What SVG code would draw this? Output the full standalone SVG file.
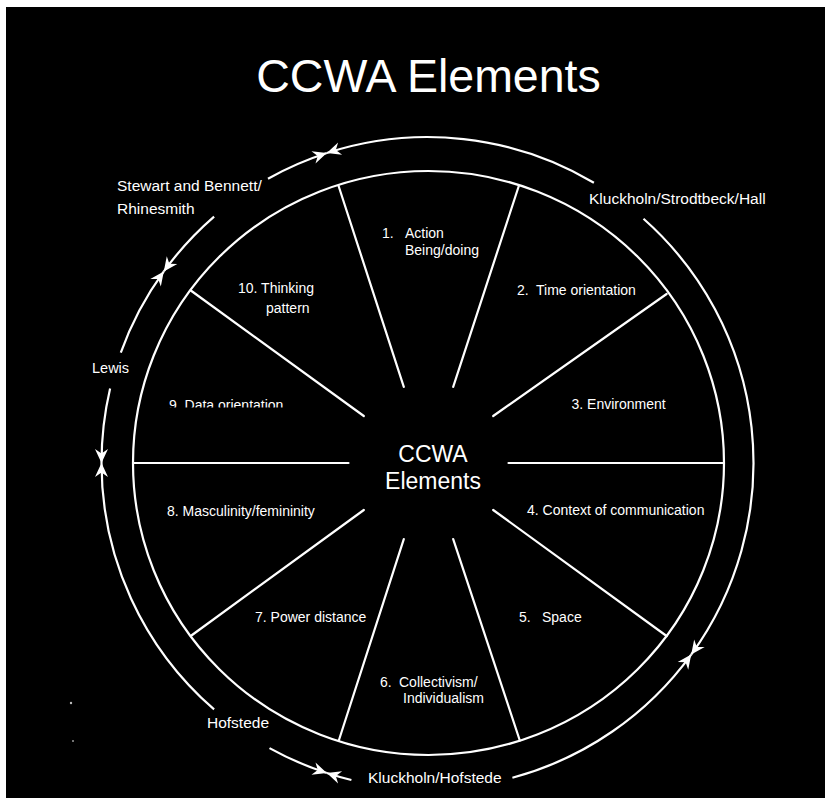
<svg xmlns="http://www.w3.org/2000/svg" width="825" height="803" viewBox="0 0 825 803">
  <style>
    .ln { fill: none; stroke: #fff; stroke-width: 2.2; stroke-linecap: round; }
    .arc { fill: none; stroke: #fff; stroke-width: 2.2; marker-end: url(#barb); }
    .lbl { fill: #fff; font-family: "Liberation Sans", Arial, sans-serif; font-size: 14px; }
    .src { fill: #fff; font-family: "Liberation Sans", Arial, sans-serif; font-size: 15.5px; }
    .hub { fill: #fff; font-family: "Liberation Sans", Arial, sans-serif; font-size: 23px; text-anchor: middle; }
    .ttl { fill: #fff; font-family: "Liberation Sans", Arial, sans-serif; font-size: 46.5px; text-anchor: middle; }
  </style>
  <defs>
    <marker id="barb" markerUnits="userSpaceOnUse" markerWidth="16" markerHeight="14" refX="0" refY="0" orient="auto" overflow="visible">
      <path d="M0,0 L-14,-6.5 L-9.5,0 L-14,6.5 Z" fill="#fff"/>
    </marker>
    <clipPath id="cut9">
      <rect x="150" y="380" width="160" height="27.5"/>
    </clipPath>
  </defs>

  <!-- page -->
  <rect x="0" y="0" width="825" height="803" fill="#fff"/>
  <rect x="6" y="7" width="819" height="791" fill="#000"/>
  <circle cx="71" cy="703" r="1.2" fill="#bbb"/>
  <circle cx="73" cy="741" r="1" fill="#999"/>

  <g id="title">
    <text class="ttl" x="428.5" y="92">CCWA Elements</text>
  </g>

  <!-- wheel: rim and spokes -->
  <g id="wheel">
    <ellipse class="ln" cx="428.5" cy="463" rx="295.5" ry="292"/>
    <line class="ln" x1="508.5" y1="463" x2="724" y2="463"/>
    <line class="ln" x1="493.2" y1="510" x2="666.6" y2="636"/>
    <line class="ln" x1="453.2" y1="539.1" x2="519.8" y2="740.5"/>
    <line class="ln" x1="403.8" y1="539.1" x2="338.8" y2="740.5"/>
    <line class="ln" x1="363.8" y1="510" x2="191.4" y2="635.5"/>
    <line class="ln" x1="348.5" y1="463" x2="133" y2="463"/>
    <line class="ln" x1="363.8" y1="416" x2="190.8" y2="290.5"/>
    <line class="ln" x1="403.8" y1="386.9" x2="338.6" y2="186"/>
    <line class="ln" x1="453.2" y1="386.9" x2="518.8" y2="186"/>
    <line class="ln" x1="493.2" y1="416" x2="666.6" y2="294"/>
  </g>

  <g id="hub">
    <text class="hub" x="433" y="462">CCWA</text>
    <text class="hub" x="433" y="489">Elements</text>
  </g>

  <!-- element labels -->
  <g id="el-1"><text class="lbl" y="238"><tspan x="382">1.</tspan><tspan x="405">Action</tspan></text><text class="lbl" x="405" y="254.5">Being/doing</text></g>
  <g id="el-2"><text class="lbl" y="295"><tspan x="517">2.</tspan><tspan x="536">Time orientation</tspan></text></g>
  <g id="el-3"><text class="lbl" x="571.5" y="408.5">3. Environment</text></g>
  <g id="el-4"><text class="lbl" x="527" y="515">4. Context of communication</text></g>
  <g id="el-5"><text class="lbl" y="622"><tspan x="519">5.</tspan><tspan x="542">Space</tspan></text></g>
  <g id="el-6"><text class="lbl" y="687"><tspan x="380">6.</tspan><tspan x="399">Collectivism/</tspan></text><text class="lbl" x="403" y="703">Individualism</text></g>
  <g id="el-7"><text class="lbl" x="255" y="622">7. Power distance</text></g>
  <g id="el-8"><text class="lbl" x="167" y="516">8. Masculinity/femininity</text></g>
  <g id="el-9"><text class="lbl" x="169" y="409.5" clip-path="url(#cut9)">9. Data orientation</text></g>
  <g id="el-10"><text class="lbl" x="238" y="293">10. Thinking</text><text class="lbl" x="266" y="313">pattern</text></g>

  <!-- source labels around the rim -->
  <g id="src-stewart"><text class="src" x="117" y="191">Stewart and Bennett/</text><text class="src" x="117" y="213.5">Rhinesmith</text></g>
  <g id="src-kluckholn-hall"><text class="src" x="589" y="204">Kluckholn/Strodtbeck/Hall</text></g>
  <g id="src-lewis"><text class="src" x="92" y="373" style="font-size:14.5px">Lewis</text></g>
  <g id="src-hofstede"><text class="src" x="207" y="728">Hofstede</text></g>
  <g id="src-kluckholn-hofstede"><text class="src" x="368" y="783">Kluckholn/Hofstede</text></g>

  <!-- outer arrowed arcs, each pair meeting head to head -->
  <g id="connectors">
    <path class="arc" d="M593.9,182.7 A326,326 0 0 0 326.8,153"/>
    <path class="arc" d="M268,178.7 A326,326 0 0 1 326.8,153"/>
    <path class="arc" d="M214.1,216.6 A326,326 0 0 0 163.8,271.4"/>
    <path class="arc" d="M120.8,352.6 A326,326 0 0 1 163.8,271.4"/>
    <path class="arc" d="M110.1,388.5 A326,326 0 0 0 101.5,463"/>
    <path class="arc" d="M214.1,709.4 A326,326 0 0 1 101.5,463"/>
    <path class="arc" d="M269.5,748.1 A326,326 0 0 0 326.8,773"/>
    <path class="arc" d="M351.4,780 A326,326 0 0 1 326.8,773"/>
    <path class="arc" d="M512.4,777.8 A326,326 0 0 0 691.2,654.6"/>
    <path class="arc" d="M643.5,218.8 A326,326 0 0 1 691.2,654.6"/>
  </g>
</svg>
